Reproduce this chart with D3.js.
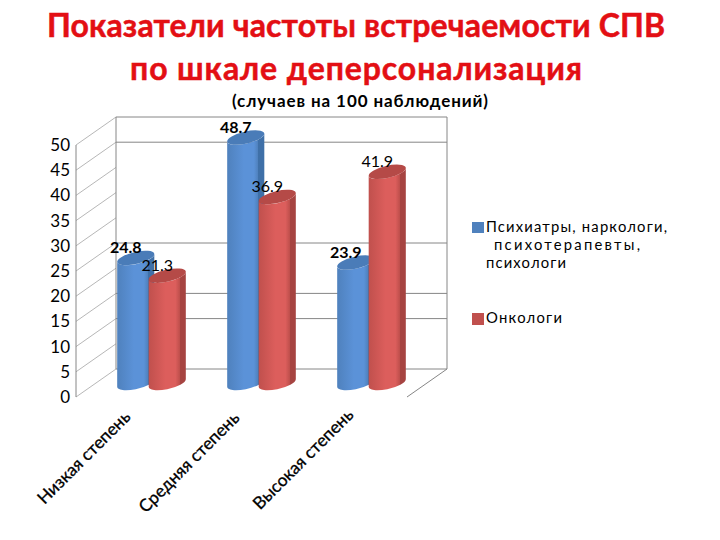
<!DOCTYPE html>
<html><head><meta charset="utf-8">
<script src="https://cdn.jsdelivr.net/npm/d3@7"></script>
<style>html,body{margin:0;padding:0;background:#fff}svg{display:block}text{font-family:Lato,"Open Sans","Noto Sans",sans-serif;fill:#000}</style>
</head><body><svg id="c" width="720" height="540"></svg>
<script>
const categories = ["Низкая степень","Средняя степень","Высокая степень"];
const seriesNames = ["Психиатры, наркологи, психотерапевты, психологи","Онкологи"];
const psychiatrists = [24.8,48.7,23.9];
const oncologists = [21.3,36.9,41.9];
const yTicks = [0,5,10,15,20,25,30,35,40,45,50];
const visibleBackLines = [0,10,15,25,45,50];
const titleLines = ["Показатели частоты встречаемости СПВ","по шкале деперсонализация"];
const subtitle = "(случаев на 100 наблюдений)";
const legendLines = ["Психиатры, наркологи,","психотерапевты,","психологи"];

const svg = d3.select("#c");
const depthX = 40, depthY = -28;
const y = d3.scaleLinear().domain([0,50]).range([397,145]);
const x = d3.scaleBand().domain(categories).range([96.5,426.5]);
const s = d3.scaleBand().domain([0,1]).range([-31.5,31.5]);
const colors = [
 {edge:"#4f81bd",mid:"#5b92d8",band:"#3f70a8",top:"#4a7cb8",legend:"#4f81bd"},
 {edge:"#c0504d",mid:"#dc5e5c",band:"#a64441",top:"#b54a47",legend:"#c0504d"}];
const grid = "#868686";
const x0 = 76, xB = x0+depthX, xR = 447;

// walls
svg.append("g").selectAll("line").data(visibleBackLines).join("line")
 .attr("x1",xB).attr("x2",xR).attr("y1",d=>y(d)+depthY).attr("y2",d=>y(d)+depthY)
 .attr("stroke",grid).attr("stroke-width",1);
svg.append("g").selectAll("line").data(yTicks).join("line")
 .attr("x1",x0).attr("x2",xB).attr("y1",d=>y(d)).attr("y2",d=>y(d)+depthY)
 .attr("stroke",grid).attr("stroke-width",0.8).attr("opacity",.75);
const frame = [[x0,y(0),x0,y(50)],[xB,y(0)+depthY,xB,y(50)+depthY],[xR,y(0)+depthY,xR,y(50)+depthY],[xR,y(0)+depthY,xR-depthX,y(0)]];
svg.append("g").selectAll("line").data(frame).join("line")
 .attr("x1",d=>d[0]).attr("y1",d=>d[1]).attr("x2",d=>d[2]).attr("y2",d=>d[3])
 .attr("stroke",grid).attr("stroke-width",1);

// axis labels
svg.append("g").selectAll("text").data(yTicks).join("text")
 .attr("x",70).attr("y",d=>y(d)).attr("dy","0.35em").attr("text-anchor","end")
 .attr("font-size",17).text(d=>d);

// gradients
const defs = svg.append("defs");
colors.forEach((c,i)=>{
 const g = defs.append("linearGradient").attr("id","g"+i).attr("x1",0).attr("x2",1).attr("y1",0).attr("y2",0);
 [[0,c.edge],[.45,c.mid],[.72,c.mid],[.83,c.edge],[.84,c.band],[1,c.band]].forEach(p=>g.append("stop").attr("offset",p[0]).attr("stop-color",p[1]));
});

// cylinders
const rx = 19, ry = 6, tilt = 13, rad = tilt*Math.PI/180;
const dx = Math.sqrt(rx*rx*Math.cos(rad)**2+ry*ry*Math.sin(rad)**2);
const dy = (rx*rx-ry*ry)*Math.sin(rad)*Math.cos(rad)/dx;
const bars = [];
categories.forEach((c,i)=>{
 bars.push({cat:c,ser:0,v:psychiatrists[i]});
 bars.push({cat:c,ser:1,v:oncologists[i]});
});
const cx = d=>x(d.cat)+x.bandwidth()/2+s(d.ser)+s.bandwidth()/2;
const midY = v=>y(v)+depthY/2;
const bar = svg.append("g").selectAll("g").data(bars).join("g");
bar.append("path").attr("fill",d=>`url(#g${d.ser})`).attr("d",d=>{
 const c=cx(d), t=midY(d.v), b=midY(0);
 return `M${c-dx},${t+dy}L${c-dx},${b+dy}A${rx},${ry} ${-tilt} 0 0 ${c+dx},${b-dy}L${c+dx},${t-dy}A${rx},${ry} ${-tilt} 0 1 ${c-dx},${t+dy}Z`;
});
bar.append("ellipse").attr("rx",rx).attr("ry",ry).attr("fill",d=>colors[d.ser].top)
 .attr("transform",d=>`translate(${cx(d)},${midY(d.v)}) rotate(${-tilt})`);

// value labels
svg.append("g").selectAll("text").data(bars).join("text")
 .attr("x",d=>cx(d)-10).attr("y",d=>midY(d.v)-5).attr("text-anchor","middle")
 .attr("font-size",16).attr("font-weight",d=>d.ser===0?700:400)
 .text(d=>d.v.toFixed(1));

// category labels
const catShift = [[-2,5],[-3,6],[1,3]];
svg.append("g").selectAll("text").data(categories).join("text")
 .attr("transform",(d,i)=>`translate(${x(d)+x.bandwidth()/2-18+catShift[i][0]},${y(0)+16+catShift[i][1]}) rotate(-45)`)
 .attr("text-anchor","end").attr("font-size",17.2)
 .style("stroke","#000").style("stroke-width",0.3).text(d=>d);

// titles
const titleWidths = [618,452];
svg.append("g").selectAll("text").data(titleLines).join("text")
 .attr("x",356).attr("y",(d,i)=>37+i*43).attr("text-anchor","middle")
 .attr("font-size",32).attr("font-weight",700)
 .attr("textLength",(d,i)=>titleWidths[i]).attr("lengthAdjust","spacing")
 .style("fill","#e30f14").style("stroke","#e30f14").style("stroke-width",0.5).text(d=>d);
svg.append("text").attr("x",360).attr("y",107).attr("text-anchor","middle")
 .attr("font-size",17).attr("font-weight",700).attr("textLength",256).attr("lengthAdjust","spacing").text(subtitle);

// legend
const legendX = [486,494,486], legendY = [232,250,268], legendW = [181,146,80];
svg.append("rect").attr("x",472).attr("y",222).attr("width",12).attr("height",11).attr("fill",colors[0].legend);
svg.append("rect").attr("x",472).attr("y",313).attr("width",12).attr("height",12).attr("fill",colors[1].legend);
svg.append("g").selectAll("text").data(legendLines).join("text")
 .attr("x",(d,i)=>legendX[i]).attr("y",(d,i)=>legendY[i]).attr("font-size",14.8)
 .attr("textLength",(d,i)=>legendW[i]).attr("lengthAdjust","spacing").text(d=>d);
svg.append("text").attr("x",486).attr("y",323).attr("font-size",14.8).attr("textLength",76).attr("lengthAdjust","spacing").text(seriesNames[1]);
</script></body></html>
